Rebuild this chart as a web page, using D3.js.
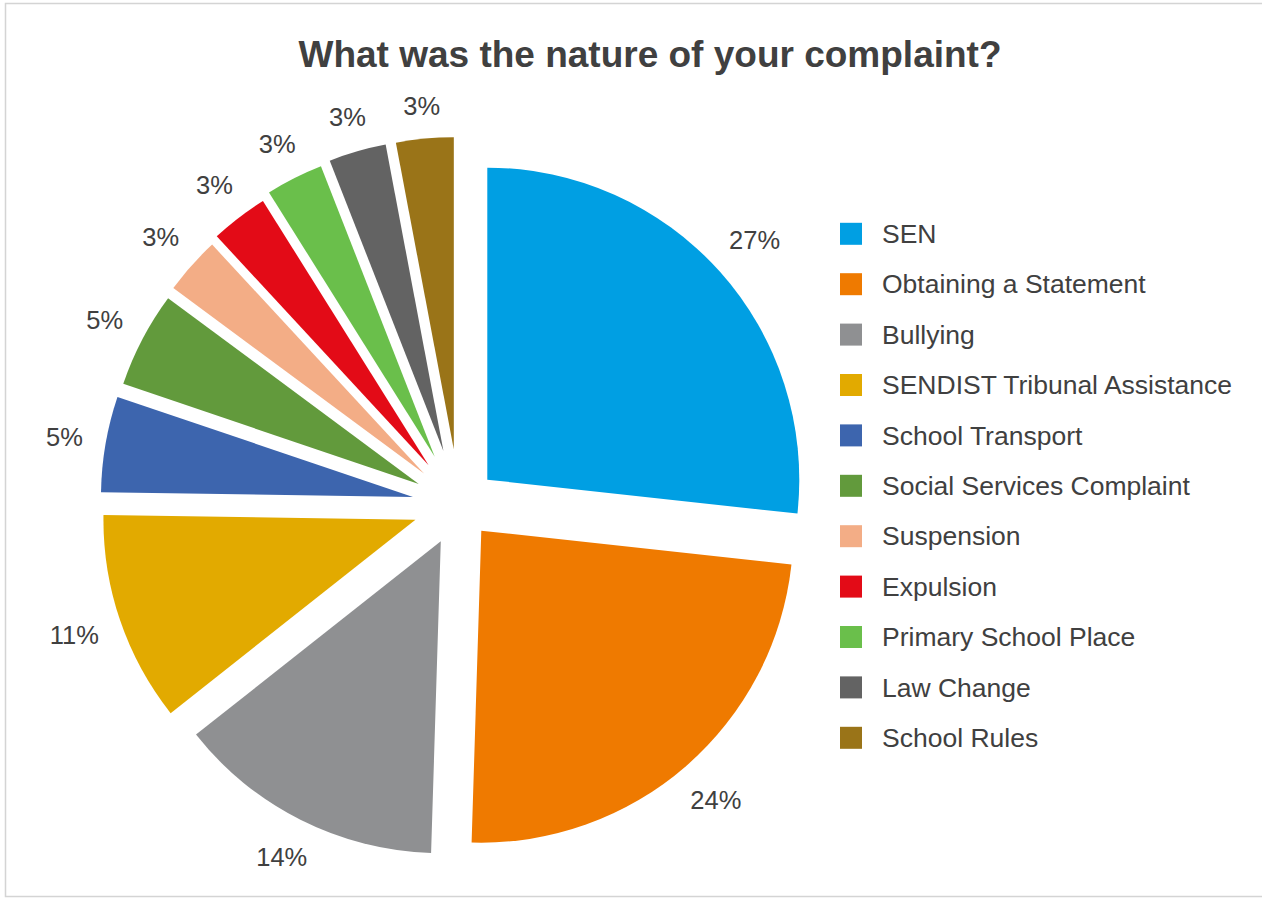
<!DOCTYPE html>
<html>
<head>
<meta charset="utf-8">
<script src="https://cdn.jsdelivr.net/npm/d3@7"></script>
<style>
  html, body { margin: 0; padding: 0; background: #ffffff; }
  svg { display: block; }
  text { font-family: "Liberation Sans", Arial, Helvetica, sans-serif; fill: #404040; }
</style>
</head>
<body>
<svg id="chart" width="1262" height="899"></svg>
<script>
// Complaint categories, in slice order (clockwise from 12 o'clock)
const categories = [
  "SEN",
  "Obtaining a Statement",
  "Bullying",
  "SENDIST Tribunal Assistance",
  "School Transport",
  "Social Services Complaint",
  "Suspension",
  "Expulsion",
  "Primary School Place",
  "Law Change",
  "School Rules"
];

// Share of complaints, in percent
const values = [27, 24, 14, 11, 5, 5, 3, 3, 3, 3, 3];

// Slice fills
const colors = [
  "#009fe3", "#ef7a00", "#8f9092", "#e2aa00", "#3d65ae",
  "#629a3c", "#f3ad86", "#e30b17", "#6abf4b", "#636363", "#9a7418"
];

// How far each slice is pulled out from the centre, in px
const explode = [38, 34, 40.5, 46, 46.7, 45.4, 47, 50, 54, 56, 56];

const title = "What was the nature of your complaint?";

const W = 1262, H = 899;
const cx = 459, cy = 505, radius = 312;

const svg = d3.select("#chart");

// chart area frame
svg.append("rect")
  .attr("x", 5.5).attr("y", 3.5)
  .attr("width", W).attr("height", 893)
  .attr("fill", "#ffffff")
  .attr("stroke", "#d4d4d4")
  .attr("stroke-width", 1.5);

// title
svg.append("text")
  .attr("x", 650).attr("y", 67)
  .attr("text-anchor", "middle")
  .style("font-size", "37px")
  .style("font-weight", "bold")
  .text(title);

const pie = d3.pie().sort(null).value(d => d);
const arcs = pie(values);
const arc = d3.arc().innerRadius(0).outerRadius(radius);

const g = svg.append("g").attr("transform", `translate(${cx},${cy})`);

const unit = d => {
  const a = (d.startAngle + d.endAngle) / 2;
  return [Math.sin(a), -Math.cos(a)];
};

g.selectAll("path.slice")
  .data(arcs)
  .join("path")
  .attr("class", "slice")
  .attr("fill", (d, i) => colors[i])
  .attr("d", arc)
  .attr("transform", (d, i) => {
    const [ux, uy] = unit(d);
    return `translate(${ux * explode[i]},${uy * explode[i]})`;
  });

// percentage labels just outside each slice
const labelGap = 22;
const labels = g.selectAll("text.pct")
  .data(arcs)
  .join("text")
  .attr("class", "pct")
  .attr("text-anchor", "middle")
  .attr("dy", "0.35em")
  .style("font-size", "25.5px")
  .text(d => d3.format(".0f")(d.data) + "%");

labels.each(function(d, i) {
  const bb = this.getBBox();
  const [ux, uy] = unit(d);
  const ext = (bb.width / 2) * Math.abs(ux) + 9 * Math.abs(uy);
  const dist = explode[i] + radius + labelGap + ext;
  d3.select(this).attr("x", ux * dist).attr("y", uy * dist);
});

// legend
const legendY = d3.scalePoint()
  .domain(categories)
  .range([233.8, 737.8]);

const legend = svg.append("g")
  .selectAll("g")
  .data(categories)
  .join("g")
  .attr("transform", d => `translate(840,${legendY(d)})`);

legend.append("rect")
  .attr("x", 0).attr("y", -11)
  .attr("width", 22).attr("height", 22)
  .attr("fill", (d, i) => colors[i]);

legend.append("text")
  .attr("x", 42).attr("y", 0)
  .attr("dy", "0.35em")
  .style("font-size", "26.5px")
  .text(d => d);
</script>
</body>
</html>
